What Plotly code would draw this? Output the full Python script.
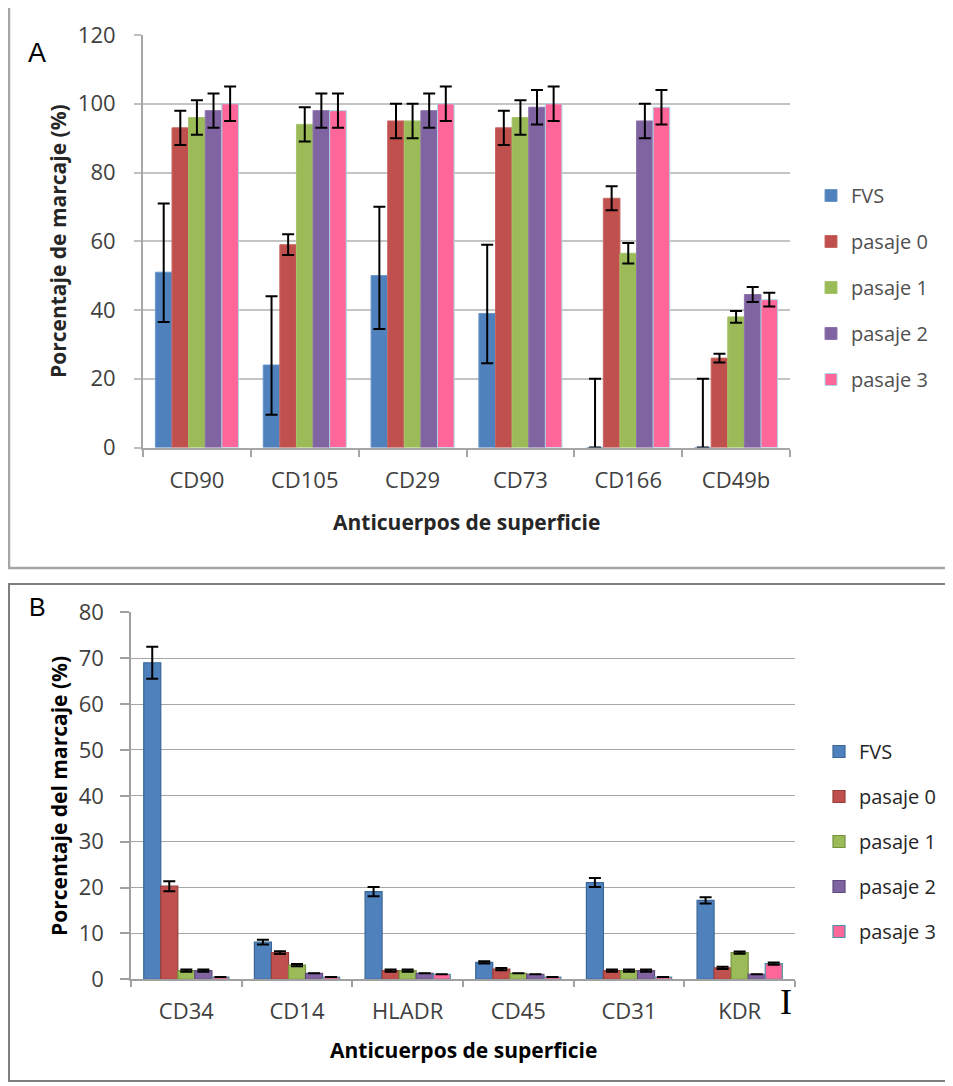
import plotly.graph_objects as go

# page body has an 8px margin; figure is sized so it fits the 953x1086 window
OFF = 8
W, H = 953 - OFF, 1086 - OFF

# ---------------- Panel A data ----------------
cats_A = ["CD90", "CD105", "CD29", "CD73", "CD166", "CD49b"]
fvs_A = [51, 24, 50, 39, 0, 0]
fvs_A_up = [20, 20, 20, 20, 20, 20]
fvs_A_dn = [14.5, 14.5, 15.5, 14.5, 0, 0]
p0_A = [93, 59, 95, 93, 72.5, 26]
p0_A_err = [5, 3, 5, 5, 3.5, 1.3]
p1_A = [96, 94, 95, 96, 56.5, 38]
p1_A_err = [5, 5, 5, 5, 3, 1.7]
p2_A = [98, 98, 98, 99, 95, 44.5]
p2_A_err = [5, 5, 5, 5, 5, 2.2]
p3_A = [100, 98, 100, 100, 99, 43]
p3_A_err = [5, 5, 5, 5, 5, 2]

# ---------------- Panel B data ----------------
cats_B = ["CD34", "CD14", "HLADR", "CD45", "CD31", "KDR"]
fvs_B = [69, 8.1, 19.1, 3.7, 21.1, 17.2]
fvs_B_err = [3.5, 0.5, 1, 0.25, 1, 0.7]
p0_B = [20.3, 5.8, 1.9, 2.2, 1.9, 2.5]
p0_B_err = [1.1, 0.3, 0.25, 0.25, 0.25, 0.25]
p1_B = [1.9, 3.1, 1.9, 1.3, 1.9, 5.8]
p1_B_err = [0.25, 0.25, 0.25, None, 0.25, 0.25]
p2_B = [1.9, 1.3, 1.3, 1.1, 1.9, 1.1]
p2_B_err = [0.25, None, None, None, 0.25, None]
p3_B = [0.5, 0.5, 1.1, 0.5, 0.5, 3.4]
p3_B_err = [None, None, None, None, None, 0.25]

series_names = ["FVS", "pasaje 0", "pasaje 1", "pasaje 2", "pasaje 3"]
colors = ["#4F81BD", "#C0504D", "#9BBB59", "#8064A2", "#FF6699"]
edge_A = ["#6A95C8", "#C86864", "#A7C46C", "#8C74AC", "#A9D8E8"]
edge_B = ["#3A6797", "#963E3B", "#76923F", "#5F4A7E", "#4A94A8"]

FONT = "Open Sans"

fig = go.Figure()


def px_x(p):
    return (p - OFF) / W


def px_y(p):
    return 1 - (p - OFF) / H


# Panel A traces
A_vals = [fvs_A, p0_A, p1_A, p2_A, p3_A]
A_errs = [None, p0_A_err, p1_A_err, p2_A_err, p3_A_err]
for i, name in enumerate(series_names):
    if i == 0:
        err = dict(type="data", symmetric=False, array=fvs_A_up, arrayminus=fvs_A_dn,
                   color="black", thickness=2, width=6)
    else:
        err = dict(type="data", array=A_errs[i], color="black", thickness=2, width=6)
    fig.add_trace(go.Bar(
        x=cats_A, y=A_vals[i], name=name, xaxis="x", yaxis="y",
        marker=dict(color=colors[i], line=dict(color=edge_A[i], width=1)),
        error_y=err, legend="legend", legendgroup="A" + name,
    ))

# Panel B traces
B_vals = [fvs_B, p0_B, p1_B, p2_B, p3_B]
B_errs = [fvs_B_err, p0_B_err, p1_B_err, p2_B_err, p3_B_err]
for i, name in enumerate(series_names):
    fig.add_trace(go.Bar(
        x=cats_B, y=B_vals[i], name=name, xaxis="x2", yaxis="y2",
        marker=dict(color=colors[i], line=dict(color=edge_B[i], width=1.2)),
        error_y=dict(type="data", array=B_errs[i], color="black", thickness=2, width=6),
        legend="legend2", legendgroup="B" + name,
    ))

tickfont = dict(family=FONT, size=22, color="#404040")


def note(text, x, y, size, family=FONT, color="black", angle=0):
    return dict(text=text, x=px_x(x), y=px_y(y), xref="paper", yref="paper",
                xanchor="center", yanchor="middle", textangle=angle, showarrow=False,
                font=dict(family=family, size=size, color=color))


fig.update_layout(
    width=W, height=H, autosize=False,
    margin=dict(l=0, r=0, t=0, b=0),
    paper_bgcolor="white", plot_bgcolor="white",
    barmode="group", bargap=0.23, bargroupgap=0,
    font=dict(family=FONT, color="#404040"),
    xaxis=dict(domain=[px_x(143), px_x(790)], anchor="y", type="category", automargin=False,
               showline=True, linecolor="#A6A6A6", linewidth=2,
               ticks="outside", tickson="boundaries", ticklen=7, tickcolor="#A6A6A6", tickwidth=2,
               tickfont=tickfont, ticklabelstandoff=12, showgrid=False),
    yaxis=dict(domain=[px_y(447.5), px_y(35)], anchor="x", range=[0, 120], automargin=False,
               tickvals=[0, 20, 40, 60, 80, 100, 120],
               showline=True, linecolor="#A6A6A6", linewidth=2,
               ticks="outside", ticklen=7, tickcolor="#BFBFBF", tickwidth=2,
               showgrid=True, gridcolor="#C4C4C4", gridwidth=2, zeroline=False,
               tickfont=tickfont, ticklabelstandoff=14),
    xaxis2=dict(domain=[px_x(131), px_x(795)], anchor="y2", type="category", automargin=False,
                showline=True, linecolor="#A0A0A0", linewidth=1.5,
                ticks="outside", tickson="boundaries", ticklen=6, tickcolor="#A0A0A0", tickwidth=1.5,
                tickfont=tickfont, ticklabelstandoff=12, showgrid=False),
    yaxis2=dict(domain=[px_y(979.3), px_y(612.3)], anchor="x2", range=[0, 80], automargin=False,
                tickvals=[0, 10, 20, 30, 40, 50, 60, 70, 80],
                showline=True, linecolor="#A0A0A0", linewidth=1.5,
                ticks="outside", ticklen=9, tickcolor="#A0A0A0", tickwidth=1.5,
                showgrid=True, gridcolor="#A6A6A6", gridwidth=1.2, zeroline=False,
                tickfont=tickfont, ticklabelstandoff=12),
    legend=dict(x=px_x(811), y=px_y(176), xanchor="left", yanchor="top",
                font=dict(family=FONT, size=20, color="#505050"),
                traceorder="grouped", tracegroupgap=17, bgcolor="rgba(0,0,0,0)"),
    legend2=dict(x=px_x(819), y=px_y(732), xanchor="left", yanchor="top",
                 font=dict(family=FONT, size=20, color="#262626"),
                 traceorder="grouped", tracegroupgap=16, bgcolor="rgba(0,0,0,0)"),
    shapes=[
        dict(type="rect", xref="paper", yref="paper",
             x0=px_x(9), x1=px_x(949), y0=px_y(568), y1=px_y(6),
             line=dict(color="#A6A6A6", width=2.5)),
        dict(type="rect", xref="paper", yref="paper",
             x0=px_x(9), x1=px_x(949), y0=px_y(1081), y1=px_y(584),
             line=dict(color="#7F7F7F", width=2)),
    ],
    annotations=[
        note("A", 37, 53, 27, family="Liberation Sans"),
        note("B", 37, 607, 25, family="Liberation Sans"),
        note("<b>Porcentaje de marcaje (%)</b>", 58, 241, 21, color="#262626", angle=-90),
        note("<b>Anticuerpos de superficie</b>", 466, 522, 21, color="#262626"),
        note("<b>Porcentaje del marcaje (%)</b>", 59, 796, 21, angle=-90),
        note("<b>Anticuerpos de superficie</b>", 463, 1050, 21),
        note("I", 786, 1002, 36, family="Liberation Serif"),
    ],
)

fig.write_html("out.html")
